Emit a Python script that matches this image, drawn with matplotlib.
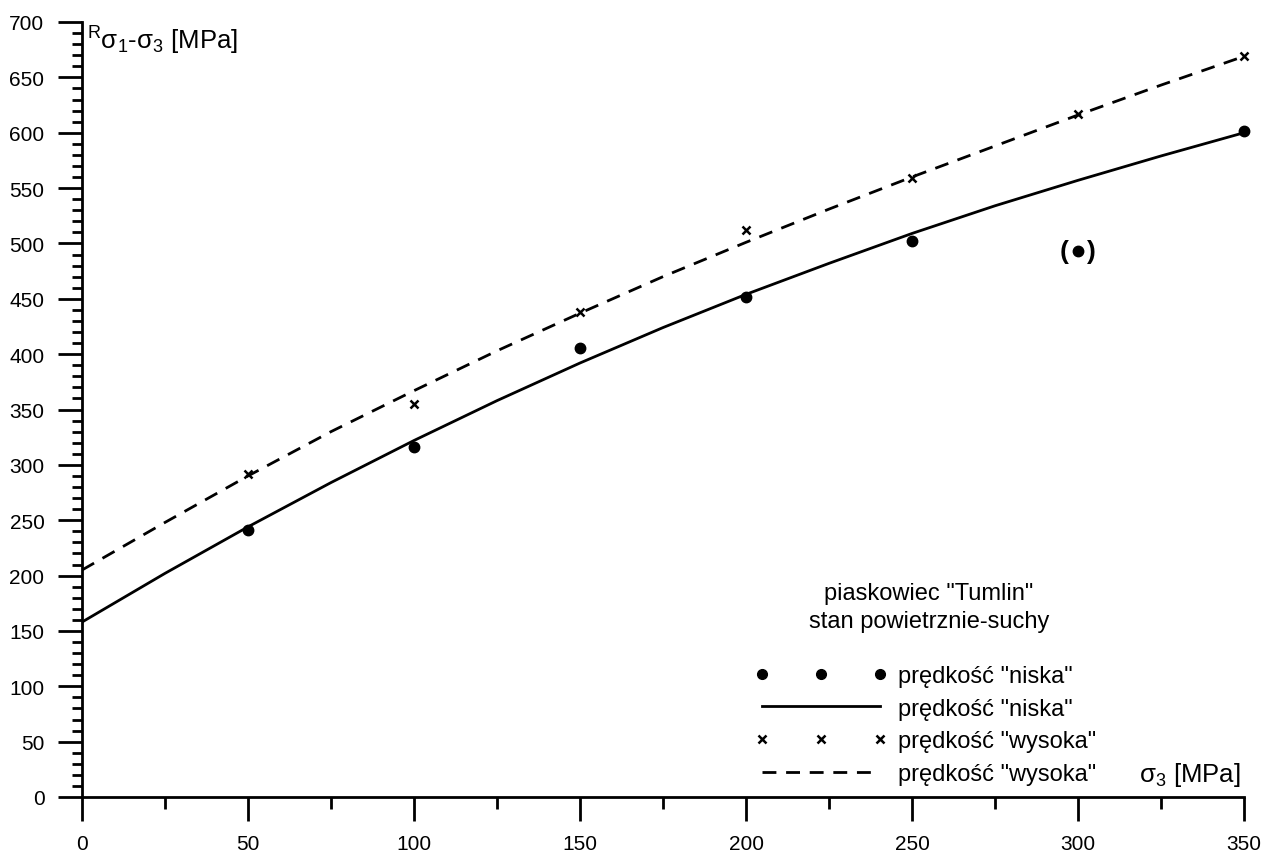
import numpy as np
import matplotlib
matplotlib.use("Agg")
import matplotlib.pyplot as plt
from matplotlib.lines import Line2D
from matplotlib.legend_handler import HandlerLine2D

plt.rcParams['font.family'] = ['Liberation Sans', 'DejaVu Sans']
plt.rcParams['mathtext.fontset'] = 'custom'
plt.rcParams['mathtext.rm'] = 'Liberation Sans'
plt.rcParams['mathtext.it'] = 'Liberation Sans:italic'
plt.rcParams['lines.scale_dashes'] = False

# measured points
sigma3 = [50, 100, 150, 200, 250, 300, 350]
niska = [241, 316, 406, 452, 502, 493, 602]
wysoka = [292, 355, 438, 512, 559, 617, 669]

# fitted curves
curve_x = [0, 25, 50, 75, 100, 125, 150, 175, 200, 225, 250, 275, 300, 325, 350]
curve_niska = [158, 202, 244, 284, 322, 358, 392, 424, 454, 482, 509, 534, 557, 579, 600]
curve_wysoka = [205, 248, 290, 330, 367, 403, 437, 470, 501, 531, 560, 588, 616, 643, 669]

outlier_x = 300
outlier_y = 493

label_n = 'prędkość "niska"'
label_w = 'prędkość "wysoka"'

W, H = 1263, 854
fig = plt.figure(figsize=(W / 100, H / 100), dpi=100)
ax = fig.add_axes([82 / W, 1 - 798 / H, 1162 / W, 775 / H])

dash = (0, (10, 7))
ax.plot(curve_x, curve_niska, color='black', lw=2.0, solid_joinstyle='round')
ax.plot(curve_x, curve_wysoka, color='black', lw=2.0, linestyle=dash)
ax.plot(sigma3, niska, linestyle='none', marker='o', ms=7.5, color='black', clip_on=False)
ax.plot(sigma3, wysoka, linestyle='none', marker='x', ms=6, mew=1.8, color='black', clip_on=False)

# parentheses round the doubtful point
ax.annotate('(', (outlier_x, outlier_y), xytext=(-10, 0), textcoords='offset points',
            ha='center', va='center', fontsize=19, fontweight='bold')
ax.annotate(')', (outlier_x, outlier_y), xytext=(10, 0), textcoords='offset points',
            ha='center', va='center', fontsize=19, fontweight='bold')

ax.set_xlim(0, 350)
ax.set_ylim(0, 700)
ax.set_xticks(np.arange(0, 351, 50))
ax.set_xticks(np.arange(0, 351, 25), minor=True)
ax.set_yticks(np.arange(0, 701, 50))
ax.set_yticks(np.arange(0, 701, 10), minor=True)

for s in ['top', 'right']:
    ax.spines[s].set_visible(False)
for s in ['left', 'bottom']:
    ax.spines[s].set_linewidth(2.0)

ax.tick_params(axis='x', which='major', direction='out', length=17, width=2, pad=10, labelsize=15)
ax.tick_params(axis='x', which='minor', direction='out', length=8.5, width=2)
ax.tick_params(axis='y', which='major', direction='out', length=17, width=2, pad=10, labelsize=15)
ax.tick_params(axis='y', which='minor', direction='out', length=7.5, width=2)

fig.text(87 / W, 1 - 50 / H, r'$^{\mathrm{R}}\mathrm{\sigma_1}$-$\mathrm{\sigma_3}$ [MPa]',
         ha='left', va='baseline', fontsize=18.5)
fig.text(1240 / W, 1 - 782 / H, r'$\mathrm{\sigma_3}$ [MPa]',
         ha='right', va='baseline', fontsize=18.5)

fig.text(929 / W, 1 - 608 / H, 'piaskowiec "Tumlin"\nstan powietrznie-suchy',
         ha='center', va='center', ma='center', fontsize=17, linespacing=1.3)

handles = [
    Line2D([], [], linestyle='none', marker='o', ms=7, color='black'),
    Line2D([], [], color='black', lw=2.0),
    Line2D([], [], linestyle='none', marker='x', ms=5.5, mew=1.8, color='black'),
    Line2D([], [], color='black', lw=2.0, linestyle=dash),
]
hm = {h: HandlerLine2D(numpoints=3, marker_pad=0) for h in handles}
leg = fig.legend(handles, [label_n, label_n, label_w, label_w], handler_map=hm,
                 loc='lower left', bbox_to_anchor=(762 / W, 1 - 786 / H),
                 frameon=False, fontsize=17, handlelength=5.0, handletextpad=0.75,
                 labelspacing=0.45, borderpad=0, borderaxespad=0)

fig.savefig('out.png', dpi=100)
